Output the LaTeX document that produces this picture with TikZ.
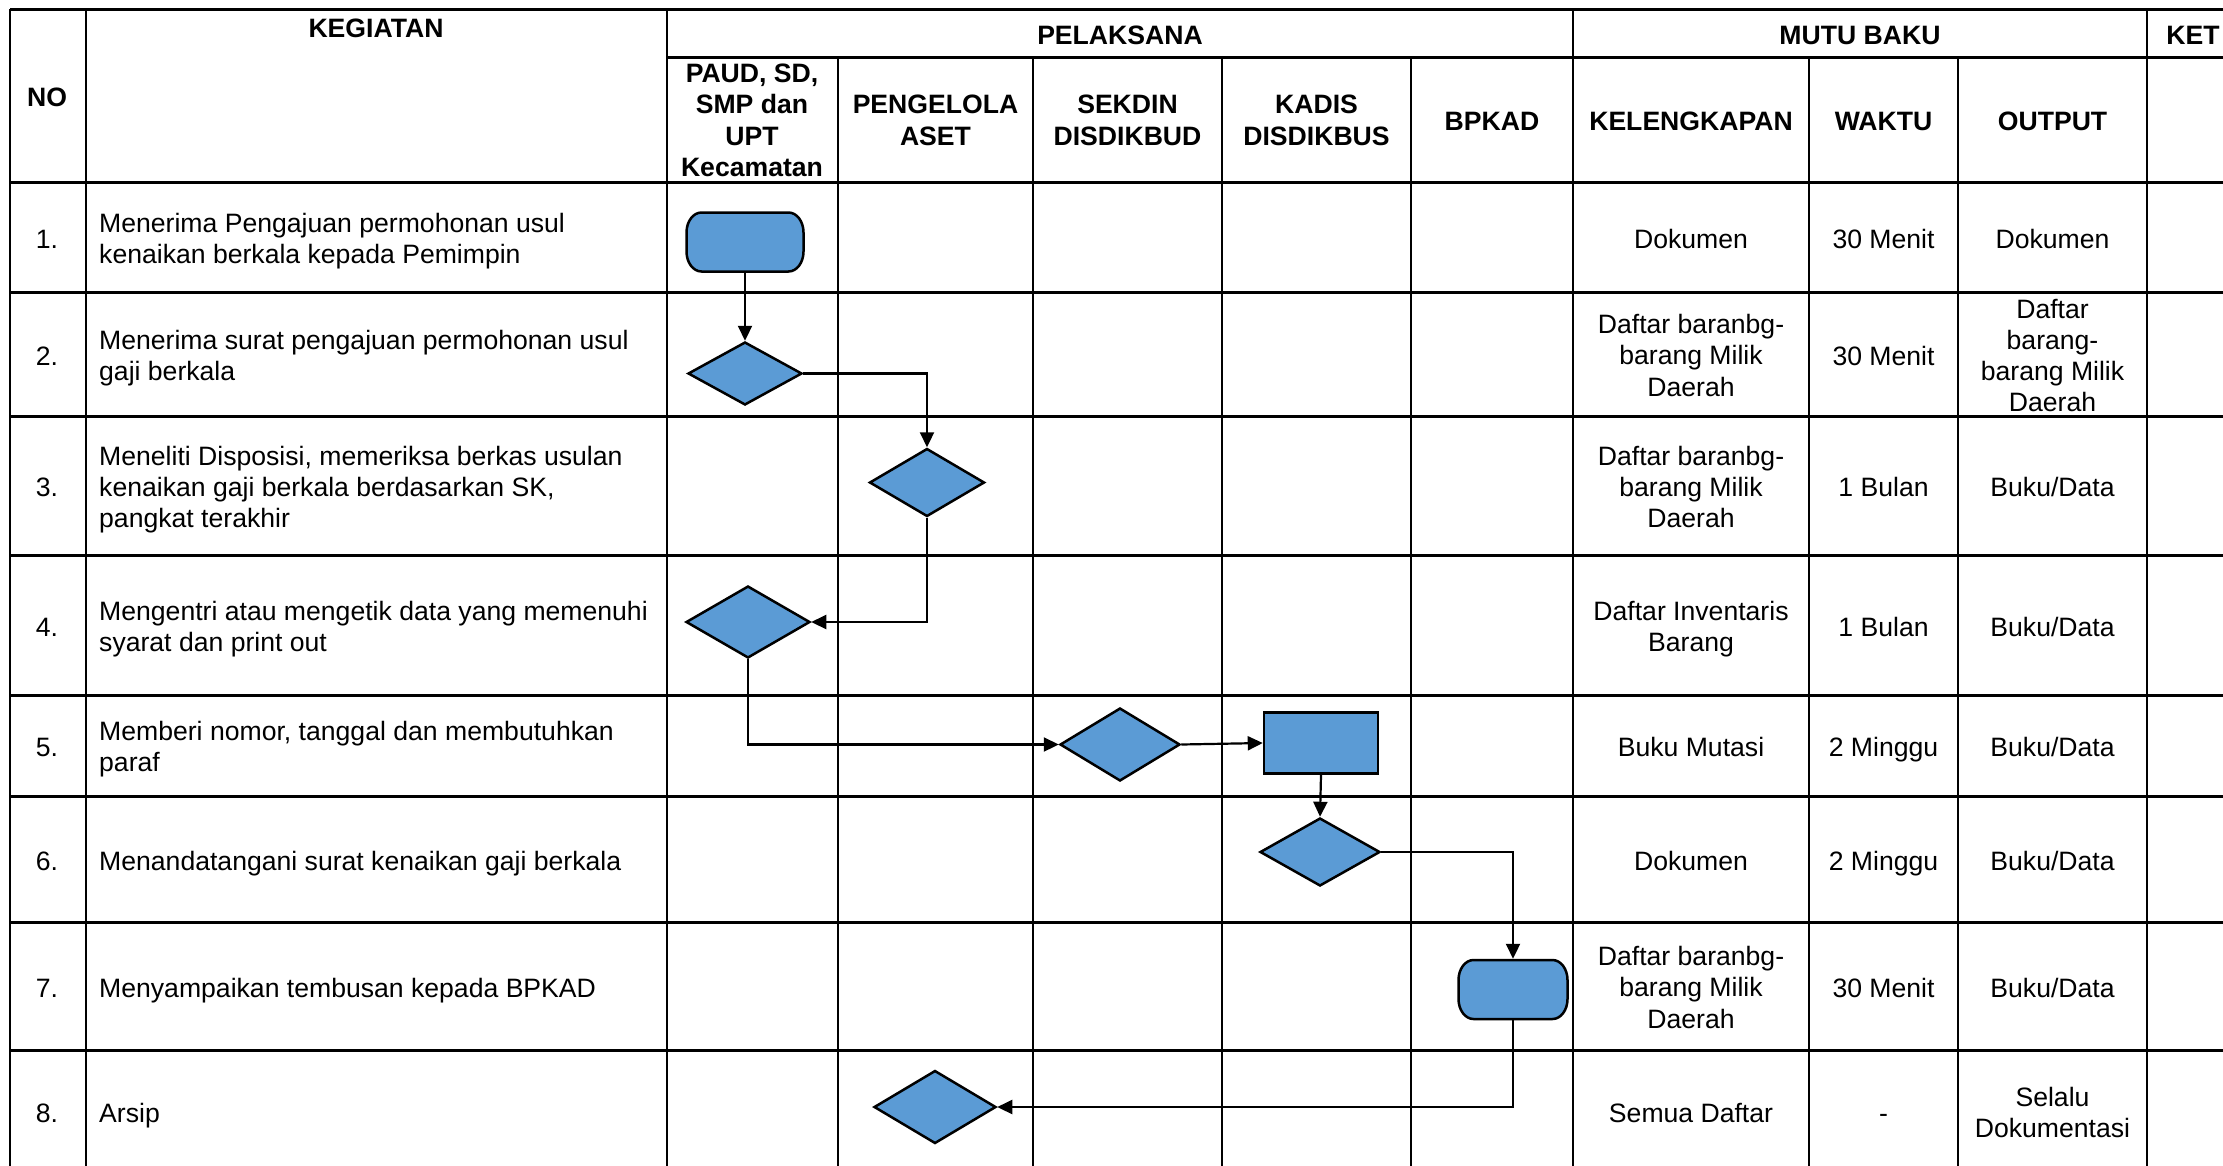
\documentclass[tikz,border=0pt]{standalone}
\usepackage{fontspec}
\setmainfont{Liberation Sans}
\usetikzlibrary{shapes.geometric,arrows.meta}
\definecolor{boxblue}{HTML}{5B9BD5}
% invisible rule giving every line the same ascent and descent
\newcommand{\linestrut}{\vrule width 0pt height 0.93em depth 0.21em\relax}
% terminator outline: centre x, centre y, half width, half height
\newcommand{\termoutline}[4]{%
  \pgfmathsetmacro{\tmL}{#1-#3}\pgfmathsetmacro{\tmR}{#1+#3}%
  \pgfmathsetmacro{\tmLi}{#1-#3+15}\pgfmathsetmacro{\tmRi}{#1+#3-15}%
  \pgfmathsetmacro{\tmLc}{#1-#3+15*0.448}\pgfmathsetmacro{\tmRc}{#1+#3-15*0.448}%
  \pgfmathsetmacro{\tmT}{#2-#4}\pgfmathsetmacro{\tmB}{#2+#4}%
  \pgfmathsetmacro{\tmTi}{#2-#4+20}\pgfmathsetmacro{\tmBi}{#2+#4-20}%
  \pgfmathsetmacro{\tmTc}{#2-#4+20*0.448}\pgfmathsetmacro{\tmBc}{#2+#4-20*0.448}%
  \draw[flowbox] (\tmLi,\tmT) -- (\tmRi,\tmT)
    .. controls (\tmRc,\tmT) and (\tmR,\tmTc) .. (\tmR,\tmTi) -- (\tmR,\tmBi)
    .. controls (\tmR,\tmBc) and (\tmRc,\tmB) .. (\tmRi,\tmB) -- (\tmLi,\tmB)
    .. controls (\tmLc,\tmB) and (\tmL,\tmBc) .. (\tmL,\tmBi) -- (\tmL,\tmTi)
    .. controls (\tmL,\tmTc) and (\tmLc,\tmT) .. (\tmLi,\tmT) -- cycle;}
\begin{document}
\begin{tikzpicture}[x=1pt,y=-1pt,
  txt/.style={font=\fontsize{26.6}{31.2}\selectfont, inner sep=0pt, align=center,
    yshift=-1.5pt,
    execute at begin node=\linestrut, execute at end node=\linestrut},
  hdr/.style={txt, font=\fontsize{26.6}{31.2}\selectfont\bfseries},
  lft/.style={txt, align=left, anchor=west},
  multi/.style={yshift=-2.5pt},
  rowline/.style={line width=3pt},
  colline/.style={line width=2pt},
  flowbox/.style={fill=boxblue, draw=black, line width=2.5pt, inner sep=0pt},
  anchorbox/.style={rectangle, inner sep=0pt, outer sep=1.25pt},
  decision/.style={flowbox, diamond},
  process/.style={flowbox, rectangle},
  flow/.style={line width=2.2pt, -{Triangle[length=15pt,width=14pt]}}
]
\useasboundingbox (0,0) rectangle (2223,1165);
\fill[white] (0,0) rectangle (2223,1165);
\clip (0,0) rectangle (2223,1165);

% table grid: rows
\draw[rowline] (10,9) -- (2260,9);
\draw[rowline] (667,57) -- (2260,57);
\foreach \y in {182,292,416,555,695,796,922,1050,1172}
  \draw[rowline] (10,\y) -- (2260,\y);
% table grid: columns
\foreach \x in {10,86,667,1573,2147}
  \draw[colline] (\x,9) -- (\x,1180);
\foreach \x in {838,1033,1222,1411,1809,1958}
  \draw[colline] (\x,57) -- (\x,1180);

% header
\node[hdr] (hno) at (47,95) {NO};
\node[hdr] (hkeg) at (376,26) {KEGIATAN};
\node[hdr] (hpel) at (1120,33) {PELAKSANA};
\node[hdr] (hmutu) at (1860,33) {MUTU BAKU};
\node[hdr] (hket) at (2193,33) {KET};
\node[hdr, multi] (hpaud) at (752,119) {PAUD, SD,\\SMP dan\\UPT\\Kecamatan};
\node[hdr, multi] (hpeng) at (935.5,119) {PENGELOLA\\ASET};
\node[hdr, multi] (hsek) at (1127.5,119) {SEKDIN\\DISDIKBUD};
\node[hdr, multi] (hkad) at (1316.5,119) {KADIS\\DISDIKBUS};
\node[hdr] (hbpk) at (1492,119) {BPKAD};
\node[hdr] (hkel) at (1691,119) {KELENGKAPAN};
\node[hdr] (hwak) at (1883.5,119) {WAKTU};
\node[hdr] (hout) at (2052.5,119) {OUTPUT};

% row numbers
\foreach \n/\y in {1/237,2/354,3/485.5,4/625,5/745.5,6/859,7/986,8/1111}
  \node[txt] (no\n) at (47,\y) {\n.};

% activities
\node[lft, multi] (k1) at (99,237) {Menerima Pengajuan permohonan usul\\kenaikan berkala kepada Pemimpin};
\node[lft, multi] (k2) at (99,354) {Menerima surat pengajuan permohonan usul\\gaji berkala};
\node[lft, multi] (k3) at (99,485.5) {Meneliti Disposisi, memeriksa berkas usulan\\kenaikan gaji berkala berdasarkan SK,\\pangkat terakhir};
\node[lft, multi] (k4) at (99,625) {Mengentri atau mengetik data yang memenuhi\\syarat dan print out};
\node[lft, multi] (k5) at (99,745.5) {Memberi nomor, tanggal dan membutuhkan\\paraf};
\node[lft] (k6) at (99,859) {Menandatangani surat kenaikan gaji berkala};
\node[lft] (k7) at (99,986) {Menyampaikan tembusan kepada BPKAD};
\node[lft] (k8) at (99,1111) {Arsip};

% quality standard columns
\node[txt] (kl1) at (1691,237) {Dokumen};
\node[txt, multi] (kl2) at (1691,354) {Daftar baranbg-\\barang Milik\\Daerah};
\node[txt, multi] (kl3) at (1691,485.5) {Daftar baranbg-\\barang Milik\\Daerah};
\node[txt, multi] (kl4) at (1691,625) {Daftar Inventaris\\Barang};
\node[txt] (kl5) at (1691,745.5) {Buku Mutasi};
\node[txt] (kl6) at (1691,859) {Dokumen};
\node[txt, multi] (kl7) at (1691,986) {Daftar baranbg-\\barang Milik\\Daerah};
\node[txt] (kl8) at (1691,1111) {Semua Daftar};

\node[txt] (w1) at (1883.5,237) {30 Menit};
\node[txt] (w2) at (1883.5,354) {30 Menit};
\node[txt] (w3) at (1883.5,485.5) {1 Bulan};
\node[txt] (w4) at (1883.5,625) {1 Bulan};
\node[txt] (w5) at (1883.5,745.5) {2 Minggu};
\node[txt] (w6) at (1883.5,859) {2 Minggu};
\node[txt] (w7) at (1883.5,986) {30 Menit};
\node[txt] (w8) at (1883.5,1111) {-};

\node[txt] (o1) at (2052.5,237) {Dokumen};
\node[txt, multi] (o2) at (2052.5,354) {Daftar\\barang-\\barang Milik\\Daerah};
\node[txt] (o3) at (2052.5,485.5) {Buku/Data};
\node[txt] (o4) at (2052.5,625) {Buku/Data};
\node[txt] (o5) at (2052.5,745.5) {Buku/Data};
\node[txt] (o6) at (2052.5,859) {Buku/Data};
\node[txt] (o7) at (2052.5,986) {Buku/Data};
\node[txt, multi] (o8) at (2052.5,1111) {Selalu\\Dokumentasi};

% flow shapes
\termoutline{745}{242}{58.5}{29.5}
\node[anchorbox, minimum width=117pt, minimum height=59pt] (t1) at (745,242) {};
\node[decision, minimum width=114pt, minimum height=63pt] (d2) at (745,373.5) {};
\node[decision, minimum width=115pt, minimum height=68pt] (d3) at (927,482.5) {};
\node[decision, minimum width=124pt, minimum height=72pt] (d4) at (748,622) {};
\node[decision, minimum width=120pt, minimum height=73pt] (d5) at (1120,744.5) {};
\node[process, minimum width=114pt, minimum height=61pt] (p5) at (1321,743) {};
\node[decision, minimum width=120pt, minimum height=68pt] (d6) at (1320,852) {};
\termoutline{1513}{989.5}{54.5}{29.5}
\node[anchorbox, minimum width=109pt, minimum height=59pt] (t7) at (1513,989.5) {};
\node[decision, minimum width=122pt, minimum height=73pt] (d8) at (935,1107) {};

% connectors
\draw[flow] (t1.south) -- (d2.north);
\draw[flow] (d2.east) -| (d3.north);
\draw[flow] (d3.south) |- (d4.east);
\draw[flow] (d4.south) |- (d5.west);
\draw[flow] (d5.east) -- (p5.west);
\draw[flow] (p5.south) -- (d6.north);
\draw[flow] (d6.east) -| (t7.north);
\draw[flow] (t7.south) |- (d8.east);
\end{tikzpicture}
\end{document}
